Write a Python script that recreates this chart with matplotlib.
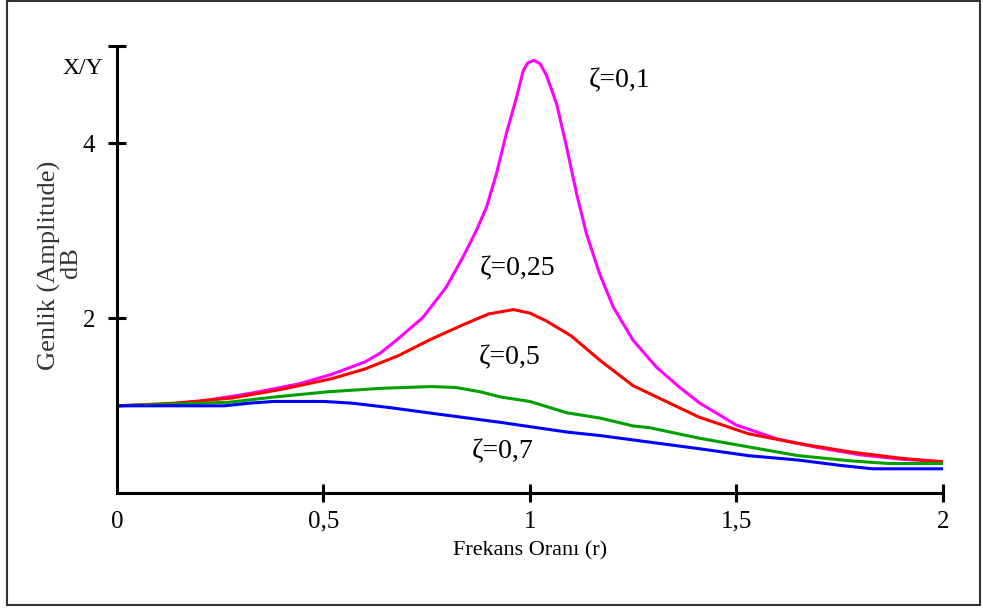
import matplotlib
matplotlib.use("Agg")
import matplotlib.pyplot as plt
from matplotlib.patches import Rectangle

plt.rcParams['font.family'] = ['Liberation Serif', 'DejaVu Serif']

# zeta = 0.1
r1 = [0, 0.1, 0.2, 0.32, 0.44, 0.52, 0.6, 0.637, 0.677, 0.741, 0.798, 0.838, 0.871,
      0.895, 0.919, 0.943, 0.968, 0.984, 0.995, 1.01, 1.025, 1.04, 1.065, 1.089, 1.113,
      1.137, 1.169, 1.202, 1.25, 1.307, 1.363, 1.412, 1.5, 1.6, 1.7, 1.8, 1.9, 2.0]
a1 = [1.0, 1.01, 1.05, 1.14, 1.25, 1.36, 1.5, 1.6, 1.75, 2.01, 2.36, 2.7, 3.01,
      3.27, 3.65, 4.11, 4.53, 4.83, 4.92, 4.95, 4.91, 4.78, 4.45, 3.96, 3.43,
      2.97, 2.51, 2.13, 1.75, 1.44, 1.21, 1.03, 0.78, 0.62, 0.52, 0.44, 0.39, 0.36]

# zeta = 0.25
r2 = [0, 0.14, 0.28, 0.4, 0.52, 0.6, 0.68, 0.76, 0.84, 0.9, 0.96, 1.0, 1.04, 1.1, 1.17,
      1.25, 1.33, 1.41, 1.53, 1.65, 1.78, 1.9, 2.0]
a2 = [1.0, 1.03, 1.09, 1.19, 1.31, 1.42, 1.57, 1.76, 1.93, 2.05, 2.1, 2.06, 1.97, 1.8,
      1.52, 1.23, 1.05, 0.87, 0.68, 0.57, 0.47, 0.4, 0.36]

# zeta = 0.5
r3 = [0, 0.27, 0.38, 0.51, 0.64, 0.76, 0.82, 0.88, 0.93, 1.0, 1.09, 1.17, 1.25, 1.29,
      1.41, 1.53, 1.65, 1.78, 1.87, 2.0]
a3 = [1.0, 1.04, 1.1, 1.16, 1.2, 1.22, 1.21, 1.16, 1.1, 1.05, 0.92, 0.86, 0.77, 0.75,
      0.63, 0.53, 0.43, 0.37, 0.34, 0.34]

# zeta = 0.7
r4 = [0, 0.26, 0.32, 0.38, 0.5, 0.57, 0.66, 0.77, 0.93, 1.09, 1.17, 1.25, 1.41, 1.53,
      1.65, 1.75, 1.83, 2.0]
a4 = [1.0, 1.0, 1.03, 1.05, 1.05, 1.03, 0.98, 0.91, 0.81, 0.7, 0.66, 0.61, 0.51, 0.43,
      0.38, 0.32, 0.28, 0.28]

labels = ['ζ=0,1', 'ζ=0,25', 'ζ=0,5', 'ζ=0,7']
label_pos = [(1.218, 4.72), (0.971, 2.57), (0.952, 1.55), (0.935, 0.47)]
x_ticks = [0, 0.5, 1, 1.5, 2]
x_ticklabels = ['0', '0,5', '1', '1,5', '2']
y_top = 5.11

fig = plt.figure(figsize=(9.83, 6.09), dpi=100)
ax = fig.add_axes([0.119, 0.19, 0.84, 0.734])

ax.plot(r1, a1, color='#ff00ff', lw=2.2)
ax.plot(r2, a2, color='#ff0000', lw=2.2)
ax.plot(r3, a3, color='#00a000', lw=2.2)
ax.plot(r4, a4, color='#0000ff', lw=2.2)

for txt, (x, y) in zip(labels, label_pos):
    ax.text(x, y, txt, fontsize=20, ha='center', va='center')

ax.set_xlim(0, 2)
ax.set_ylim(0, y_top)
for s in ['top', 'right']:
    ax.spines[s].set_visible(False)
for s in ['left', 'bottom']:
    ax.spines[s].set_linewidth(2.2)

ax.set_xticks(x_ticks)
ax.set_xticklabels(x_ticklabels)
ax.set_yticks([2, 4, y_top])
ax.set_yticklabels(['2', '4', ''])
ax.tick_params(axis='both', direction='inout', length=13, width=2.2, labelsize=18)
ax.tick_params(axis='x', pad=6)
ax.tick_params(axis='y', pad=9)
ax.xaxis.get_major_ticks()[0].tick1line.set_visible(False)

ax.set_xlabel('Frekans Oranı (r)', fontsize=16, labelpad=6)
# y label is two separate lines, as in the original
fig.text(49 / 983, 1 - 265 / 609, 'Genlik (Amplitude)', fontsize=19, color='#333333',
         rotation=90, ha='center', va='center')
fig.text(71 / 983, 1 - 263 / 609, 'dB', fontsize=19, color='#333333',
         rotation=90, ha='center', va='center')
ax.text(-0.082, 4.86, 'X/Y', fontsize=17, ha='center', va='center', clip_on=False)

fig.patches.append(Rectangle((0.007, 0.007), 0.99, 0.991, transform=fig.transFigure,
                             fill=False, edgecolor='#333333', lw=1.5))

fig.savefig('out.png', dpi=100)
